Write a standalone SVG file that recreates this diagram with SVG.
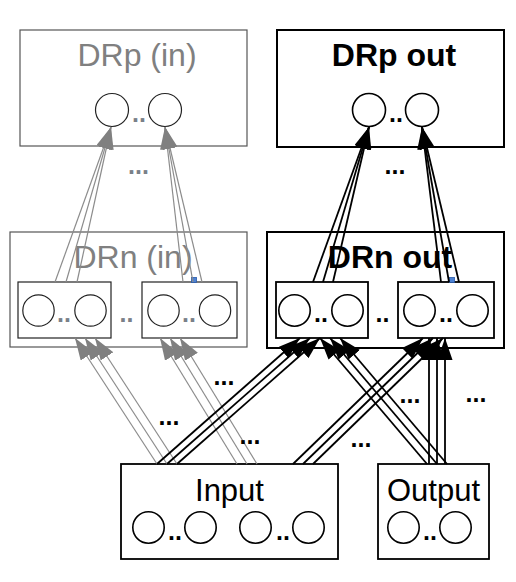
<svg xmlns="http://www.w3.org/2000/svg" width="516" height="582" viewBox="0 0 516 582">
<style>
text{font-family:"Liberation Sans",Arial,sans-serif}
.box-in{fill:#fff;stroke:#555;stroke-width:1.2}
.box-out{fill:#fff;stroke:#000;stroke-width:2}
.sub-in{fill:#fff;stroke:#222;stroke-width:1.2}
.sub-out{fill:#fff;stroke:#000;stroke-width:1.8}
.c-in{fill:#fff;stroke:#222;stroke-width:1.2}
.c-out{fill:#fff;stroke:#000;stroke-width:1.6}
.t-in{font-size:32px;fill:#808080;text-anchor:middle}
.t-out{font-size:32px;font-weight:bold;fill:#000;text-anchor:middle}
.t-io{font-size:31px;fill:#000;text-anchor:middle}
.dd-in{font-size:25px;font-weight:bold;fill:#7a8088;text-anchor:middle}
.dd{font-size:25px;font-weight:bold;fill:#000;text-anchor:middle}
.g{stroke:#8c8c8c;stroke-width:1.2;fill:none;marker-end:url(#ag)}
.k{stroke:#000;stroke-width:1.8;fill:none;marker-end:url(#ak)}
.h{fill:#4d82d4;stroke:#2a5aa8;stroke-width:0.8}
</style>
<defs>
<marker id="ag" viewBox="0 0 22 15" refX="22" refY="7.5" markerWidth="22" markerHeight="15" orient="auto" markerUnits="userSpaceOnUse"><path d="M0,0 L22,7.5 L0,15 Z" fill="#808080"/></marker>
<marker id="ak" viewBox="0 0 22 15" refX="22" refY="7.5" markerWidth="22" markerHeight="15" orient="auto" markerUnits="userSpaceOnUse"><path d="M0,0 L22,7.5 L0,15 Z" fill="#000"/></marker>
</defs>

<g id="drp-in">
<rect class="box-in" x="20" y="30" width="227" height="116"/>
<text class="t-in" x="137" y="66">DRp (in)</text>
<circle class="c-in" cx="112" cy="110" r="16.5"/>
<circle class="c-in" cx="165" cy="110" r="16.5"/>
<text class="dd-in" x="139" y="122">..</text>
</g>

<g id="drp-out">
<rect class="box-out" x="277" y="30" width="227" height="117"/>
<text class="t-out" x="394" y="66">DRp out</text>
<circle class="c-out" cx="369" cy="110" r="16.5"/>
<circle class="c-out" cx="422" cy="110" r="16.5"/>
<text class="dd" x="396" y="122">..</text>
</g>

<g id="drn-in">
<rect class="box-in" x="10" y="232" width="237" height="115"/>
<text class="t-in" x="133" y="268">DRn (in)</text>
<rect class="sub-in" x="18" y="282" width="93" height="56"/>
<rect class="sub-in" x="142" y="282" width="95" height="56"/>
<circle class="c-in" cx="38.5" cy="310.5" r="15.7"/>
<circle class="c-in" cx="90.5" cy="310.5" r="15.7"/>
<circle class="c-in" cx="163.5" cy="310.5" r="15.7"/>
<circle class="c-in" cx="215" cy="310.5" r="15.7"/>
<text class="dd-in" x="64" y="322">..</text>
<text class="dd-in" x="189" y="322">..</text>
<text class="dd-in" x="126.5" y="322">..</text>
<rect class="h" x="191.5" y="277.5" width="5" height="5"/>
</g>

<g id="drn-out">
<rect class="box-out" x="267" y="232" width="237" height="116"/>
<text class="t-out" x="390" y="268">DRn out</text>
<rect class="sub-out" x="276" y="282" width="92" height="56"/>
<rect class="sub-out" x="398" y="282" width="96" height="56"/>
<circle class="c-out" cx="294.5" cy="310.5" r="15.7"/>
<circle class="c-out" cx="347.5" cy="310.5" r="15.7"/>
<circle class="c-out" cx="419.5" cy="310.5" r="15.7"/>
<circle class="c-out" cx="472.5" cy="310.5" r="15.7"/>
<text class="dd" x="321" y="322">..</text>
<text class="dd" x="446" y="322">..</text>
<text class="dd" x="382.5" y="322">..</text>
<rect class="h" x="449.5" y="277.5" width="5" height="5"/>
</g>

<g id="input">
<rect class="sub-out" x="121" y="464" width="217" height="95"/>
<text class="t-io" x="229.5" y="501">Input</text>
<circle class="c-out" cx="148.5" cy="527.5" r="15.7"/>
<circle class="c-out" cx="200.5" cy="527.5" r="15.7"/>
<circle class="c-out" cx="255.5" cy="527.5" r="15.7"/>
<circle class="c-out" cx="308.5" cy="527.5" r="15.7"/>
<text class="dd" x="175" y="540">..</text>
<text class="dd" x="283" y="540">..</text>
</g>

<g id="output">
<rect class="sub-out" x="378" y="464" width="111" height="95"/>
<text class="t-io" x="433.5" y="501">Output</text>
<circle class="c-out" cx="403.5" cy="527.5" r="15.7"/>
<circle class="c-out" cx="455.5" cy="527.5" r="15.7"/>
<text class="dd" x="430" y="540">..</text>
</g>

<g id="connectors">
<line class="g" x1="55" y1="282" x2="111" y2="127"/>
<line class="g" x1="66" y1="282" x2="111" y2="127"/>
<line class="g" x1="77" y1="282" x2="111" y2="127"/>
<line class="g" x1="183" y1="282" x2="165" y2="127"/>
<line class="g" x1="193" y1="282" x2="165" y2="127"/>
<line class="g" x1="202" y1="282" x2="165" y2="127"/>
<line class="k" x1="313" y1="282" x2="369" y2="127"/>
<line class="k" x1="323" y1="282" x2="369" y2="127"/>
<line class="k" x1="333" y1="282" x2="369" y2="127"/>
<line class="k" x1="441" y1="282" x2="422" y2="127"/>
<line class="k" x1="449" y1="282" x2="422" y2="127"/>
<line class="k" x1="459" y1="282" x2="422" y2="127"/>
<line class="g" x1="157" y1="464" x2="75" y2="338"/>
<line class="g" x1="167" y1="464" x2="85" y2="338"/>
<line class="g" x1="177" y1="464" x2="95" y2="338"/>
<line class="g" x1="237" y1="464" x2="160" y2="338"/>
<line class="g" x1="247" y1="464" x2="170" y2="338"/>
<line class="g" x1="257" y1="464" x2="180" y2="338"/>
<line class="k" x1="157" y1="464" x2="300" y2="338"/>
<line class="k" x1="167" y1="464" x2="310" y2="338"/>
<line class="k" x1="177" y1="464" x2="320" y2="338"/>
<line class="k" x1="293" y1="464" x2="423" y2="338"/>
<line class="k" x1="303" y1="464" x2="433" y2="338"/>
<line class="k" x1="313" y1="464" x2="443" y2="338"/>
<line class="k" x1="427" y1="464" x2="320" y2="338"/>
<line class="k" x1="437" y1="464" x2="330" y2="338"/>
<line class="k" x1="447" y1="464" x2="340" y2="338"/>
<line class="k" x1="429" y1="464" x2="429" y2="338"/>
<line class="k" x1="437" y1="464" x2="437" y2="338"/>
<line class="k" x1="445" y1="464" x2="445" y2="338"/>
</g>

<g id="ellipses">
<text class="dd-in" x="138.5" y="174">...</text>
<text class="dd" x="395" y="174">...</text>
<text class="dd" x="224" y="385">...</text>
<text class="dd" x="169" y="425">...</text>
<text class="dd" x="250" y="444">...</text>
<text class="dd" x="410" y="403">...</text>
<text class="dd" x="476" y="402">...</text>
<text class="dd" x="361" y="447">...</text>
</g>
</svg>
